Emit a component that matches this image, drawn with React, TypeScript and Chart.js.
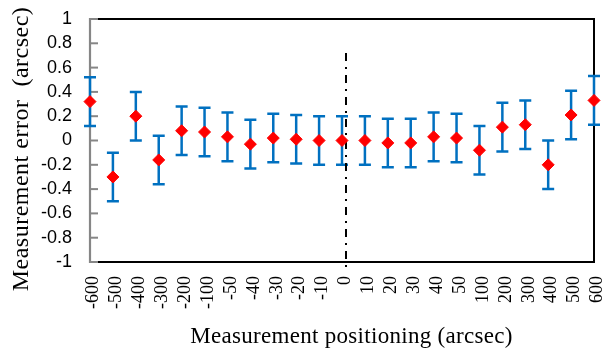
import { useEffect, useRef } from 'react';
import { Chart, registerables } from 'chart.js';

Chart.register(...registerables);

// Categories (measurement positions, arcsec)
const categories: string[] = [
  '-600', '-500', '-400', '-300', '-200', '-100', '-50', '-40', '-30', '-20', '-10',
  '0', '10', '20', '30', '40', '50', '100', '200', '300', '400', '500', '600',
];

// Measurement error (arcsec)
const errorValues: number[] = [
  0.32, -0.30, 0.20, -0.16, 0.08, 0.07, 0.03, -0.03, 0.02, 0.01, 0.0,
  0.0, 0.0, -0.02, -0.02, 0.03, 0.02, -0.08, 0.11, 0.13, -0.20, 0.21, 0.33,
];

// Error bar half-lengths (arcsec)
const errorBars: number[] = [
  0.2, 0.2, 0.2, 0.2, 0.2, 0.2, 0.2, 0.2, 0.2, 0.2, 0.2,
  0.2, 0.2, 0.2, 0.2, 0.2, 0.2, 0.2, 0.2, 0.2, 0.2, 0.2, 0.2,
];

// Y axis range
const yMin = -1;
const yMax = 1;
const yStep = 0.2;

// Reference line (dash-dot) at position 0, from this value down past the axis
const referenceCategory = '0';
const referenceLineTop = 0.72;

const yTitle = 'Measurement error  (arcsec)';
const xTitle = 'Measurement positioning (arcsec)';

const BLUE = 'rgb(0,112,192)';
const RED = '#ff0000';
const AXIS_GRAY = '#868686';

const decorations = {
  id: 'decorations',
  beforeDatasetsDraw(chart: any) {
    const { ctx, chartArea: a, scales } = chart;
    const x = scales.x;
    const y = scales.y;
    ctx.save();

    // frame: top, right, bottom in black
    ctx.strokeStyle = '#000';
    ctx.lineWidth = 2;
    ctx.beginPath();
    ctx.moveTo(a.left, a.top);
    ctx.lineTo(a.right, a.top);
    ctx.lineTo(a.right, a.bottom);
    ctx.lineTo(a.left, a.bottom);
    ctx.stroke();

    // left axis in gray with inward ticks
    ctx.strokeStyle = AXIS_GRAY;
    ctx.lineWidth = 2.2;
    ctx.beginPath();
    ctx.moveTo(a.left, a.top - 1);
    ctx.lineTo(a.left, a.bottom + 1);
    ctx.stroke();
    ctx.lineWidth = 2;
    y.ticks.forEach((t: any) => {
      const py = y.getPixelForValue(t.value);
      ctx.beginPath();
      ctx.moveTo(a.left, py);
      ctx.lineTo(a.left + 8, py);
      ctx.stroke();
    });

    // error bars
    ctx.strokeStyle = BLUE;
    ctx.lineWidth = 2.5;
    errorValues.forEach((v, i) => {
      const px = x.getPixelForValue(i);
      const top = y.getPixelForValue(v + errorBars[i]);
      const bot = y.getPixelForValue(v - errorBars[i]);
      ctx.beginPath();
      ctx.moveTo(px, top);
      ctx.lineTo(px, bot);
      ctx.moveTo(px - 6, top);
      ctx.lineTo(px + 6, top);
      ctx.moveTo(px - 6, bot);
      ctx.lineTo(px + 6, bot);
      ctx.stroke();
    });

    // dash-dot reference line
    const rx = x.getPixelForValue(categories.indexOf(referenceCategory)) + 4;
    ctx.strokeStyle = '#000';
    ctx.lineWidth = 2;
    ctx.setLineDash([8, 6, 2, 6]);
    ctx.beginPath();
    ctx.moveTo(rx, y.getPixelForValue(referenceLineTop));
    ctx.lineTo(rx, a.bottom + 11);
    ctx.stroke();
    ctx.setLineDash([]);

    ctx.restore();
  },
  afterDraw(chart: any) {
    const { ctx } = chart;
    ctx.save();
    ctx.fillStyle = '#000';
    ctx.textAlign = 'center';
    ctx.textBaseline = 'alphabetic';
    // y title
    ctx.font = '24px "Liberation Serif", "Times New Roman", serif';
    try { (ctx as any).letterSpacing = '0.5px'; } catch (e) { /* ignore */ }
    ctx.translate(28, 149);
    ctx.rotate(-Math.PI / 2);
    ctx.fillText(yTitle, 0, 0);
    ctx.restore();

    ctx.save();
    ctx.fillStyle = '#000';
    ctx.textAlign = 'center';
    ctx.textBaseline = 'alphabetic';
    ctx.font = '23px "Liberation Serif", "Times New Roman", serif';
    try { (ctx as any).letterSpacing = '0.3px'; } catch (e) { /* ignore */ }
    ctx.fillText(xTitle, 351.5, 343);
    ctx.restore();
  },
};

export default function App() {
  const canvasRef = useRef<HTMLCanvasElement | null>(null);

  useEffect(() => {
    document.body.style.margin = '0';
    const canvas = canvasRef.current;
    if (!canvas) return;
    const chart = new Chart(canvas, {
      type: 'line',
      data: {
        labels: categories,
        datasets: [
          {
            data: errorValues,
            showLine: false,
            pointStyle: 'rectRot',
            pointRadius: 6,
            pointHoverRadius: 6,
            pointBackgroundColor: RED,
            pointBorderColor: RED,
            pointBorderWidth: 1,
            clip: false as any,
          },
        ],
      },
      options: {
        responsive: false,
        animation: false,
        devicePixelRatio: 1,
        events: [],
        layout: { padding: { top: 19, right: 10, left: 0, bottom: 0 } },
        plugins: {
          legend: { display: false },
          tooltip: { enabled: false },
          title: { display: false },
        },
        scales: {
          x: {
            type: 'category',
            offset: false,
            grid: { display: false, drawTicks: false },
            border: { display: false },
            ticks: {
              autoSkip: false,
              maxRotation: 90,
              minRotation: 90,
              padding: 14,
              labelOffset: 3.5,
              color: '#000',
              font: { family: '"Liberation Serif", "Times New Roman", serif', size: 18 },
            },
            afterFit: (scale: any) => {
              scale.height = 86;
              scale.paddingLeft = 0;
              scale.paddingRight = 0;
            },
          },
          y: {
            min: yMin,
            max: yMax,
            grid: { display: false, drawTicks: false },
            border: { display: false },
            ticks: {
              stepSize: yStep,
              autoSkip: false,
              padding: 18,
              color: '#000',
              font: { family: '"Liberation Sans", Arial, sans-serif', size: 18 },
              callback: (v: any) => String(Number(Number(v).toFixed(1))),
            },
            afterFit: (scale: any) => {
              scale.width = 90;
              scale.paddingTop = 0;
              scale.paddingBottom = 0;
            },
          },
        },
      },
      plugins: [decorations],
    });
    return () => chart.destroy();
  }, []);

  return <canvas ref={canvasRef} width={604} height={348} style={{ display: 'block' }} />;
}
